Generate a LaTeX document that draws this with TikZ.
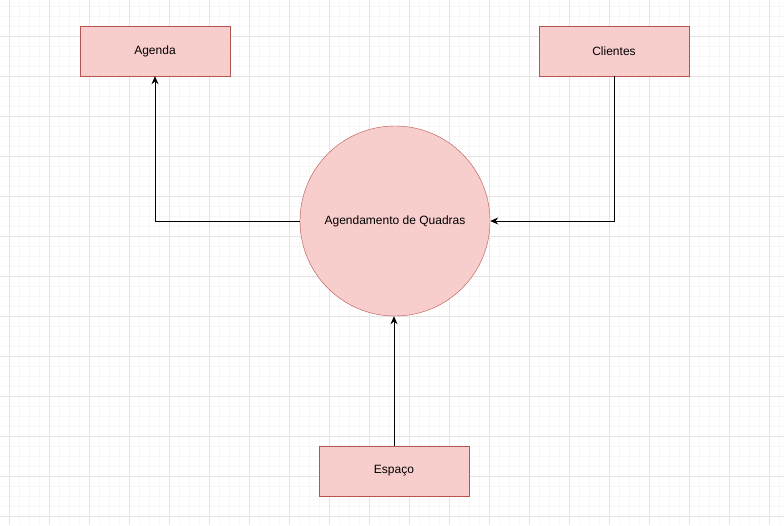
\documentclass[tikz,border=0pt]{standalone}
\usepackage{fontspec}
\setmainfont{Liberation Sans}
\usetikzlibrary{arrows.meta}

\definecolor{boxfill}{HTML}{F8CECC}
\definecolor{boxline}{HTML}{B85450}
\definecolor{gridmajor}{HTML}{E4E4E4}
\definecolor{gridminor}{HTML}{F7F7F7}

\tikzset{
  entity/.style={draw=boxline, fill=boxfill, minimum width=150pt, minimum height=50pt,
                 inner sep=0pt, font=\fontsize{12}{14}\selectfont},
  process/.style={circle, draw=boxline, fill=boxfill, minimum size=190pt,
                  inner sep=0pt, font=\fontsize{12}{14}\selectfont},
  flow/.style={-{Stealth[length=8pt,width=7pt]}, line width=0.9pt}
}

\begin{document}
\begin{tikzpicture}[x=1pt, y=-1pt]

    % Background and grid
    \fill[white] (0,0) rectangle (784,525);
    \useasboundingbox (0,0) rectangle (784,525);
    \foreach \x in {-1,9,...,784} \draw[gridminor, line width=0.8pt] (\x,0) -- (\x,525);
    \foreach \y in {6,16,...,525} \draw[gridminor, line width=0.8pt] (0,\y) -- (784,\y);
    \foreach \x in {9,49,...,784} \draw[gridmajor, line width=0.8pt] (\x,0) -- (\x,525);
    \foreach \y in {36,76,...,525} \draw[gridmajor, line width=0.8pt] (0,\y) -- (784,\y);

    % Define nodes
    \node[entity]  (agenda)   at (155,51)  {Agenda};
    \node[entity]  (clientes) at (614,51)  {Clientes};
    \node[process] (sched)    at (395,221) {Agendamento de Quadras};
    \node[entity]  (espaco)   at (394,471) {Espaço};

    % Connect the nodes
    \draw[flow] (sched.west) -| (agenda.south);
    \draw[flow] (clientes.south) |- (sched.east);
    \draw[flow] (espaco.north) -- (espaco.north |- sched.south);

\end{tikzpicture}
\end{document}
